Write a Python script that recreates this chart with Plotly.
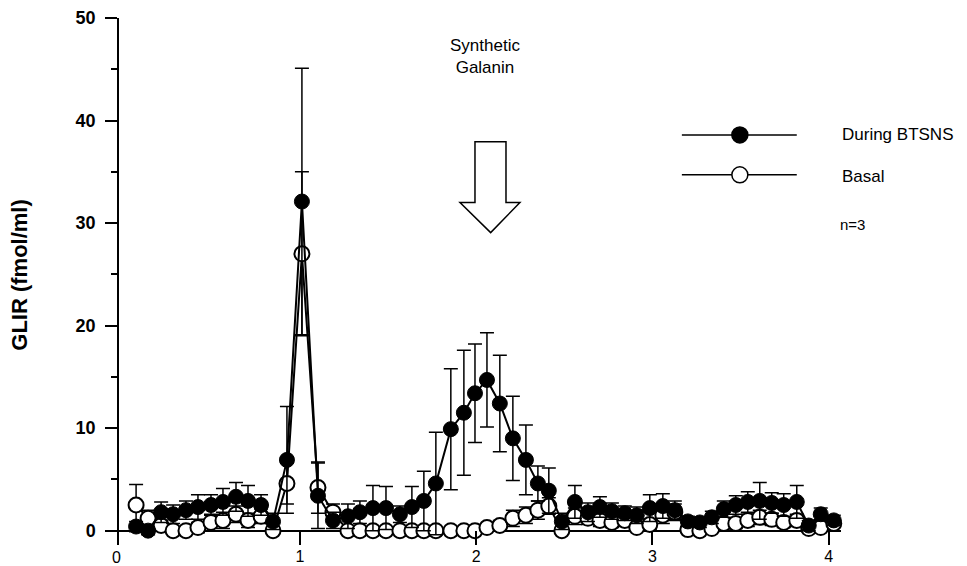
import plotly.graph_objects as go

# Time (x) positions of samples
time_x = [0.070, 0.138, 0.212, 0.280, 0.353, 0.421, 0.495, 0.563, 0.637, 0.705,
          0.779, 0.847, 0.926, 1.011, 1.102, 1.187, 1.272, 1.340, 1.414, 1.488,
          1.567, 1.635, 1.703, 1.771, 1.856, 1.930, 1.993, 2.061, 2.134, 2.208,
          2.282, 2.350, 2.412, 2.486, 2.560, 2.634, 2.702, 2.770, 2.843, 2.911,
          2.985, 3.059, 3.127, 3.201, 3.269, 3.337, 3.405, 3.473, 3.541, 3.609,
          3.677, 3.745, 3.819, 3.887, 3.955, 4.029]

# During BTSNS (filled circles)
during_y = [0.4, 0.0, 1.8, 1.6, 2.0, 2.3, 2.5, 2.8, 3.3, 2.9,
            2.5, 0.9, 6.9, 32.1, 3.4, 1.0, 1.4, 1.8, 2.2, 2.2,
            1.6, 2.3, 2.9, 4.6, 9.9, 11.5, 13.4, 14.7, 12.4, 9.0,
            6.9, 4.6, 3.9, 0.9, 2.8, 1.8, 2.3, 1.9, 1.7, 1.5,
            2.2, 2.4, 2.0, 0.9, 0.8, 1.3, 2.1, 2.5, 2.8, 2.9,
            2.7, 2.5, 2.8, 0.5, 1.6, 1.0]
during_err = [0.5, 0.4, 1.0, 0.9, 0.9, 1.2, 1.0, 1.3, 1.4, 1.5,
              1.0, 0.8, 5.2, 13.0, 3.2, 0.8, 1.2, 1.1, 2.2, 2.1,
              0.8, 2.0, 2.9, 5.0, 5.9, 6.1, 4.8, 4.6, 4.7, 4.1,
              3.4, 1.7, 2.2, 0.8, 1.6, 0.9, 1.0, 0.8, 0.7, 0.8,
              1.3, 1.2, 0.9, 0.5, 0.5, 0.6, 0.8, 0.9, 1.0, 1.8,
              1.0, 1.1, 1.6, 0.5, 0.6, 0.5]

# Basal (open circles)
basal_y = [2.5, 1.2, 0.5, 0.0, 0.0, 0.3, 0.8, 1.0, 1.6, 1.0,
           1.4, 0.0, 4.6, 27.0, 4.2, 1.8, 0.0, 0.0, 0.0, 0.0,
           0.0, 0.0, 0.0, 0.0, 0.0, 0.0, 0.0, 0.3, 0.5, 1.2,
           1.5, 2.0, 2.4, 0.0, 1.4, 1.2, 1.0, 0.8, 1.0, 0.3,
           0.6, 1.5, 1.8, 0.1, 0.0, 0.2, 0.7, 0.7, 1.0, 1.3,
           1.1, 0.8, 1.0, 0.2, 0.3, 0.7]
basal_err = [2.0, 0.8, 0.5, 0.3, 0.3, 0.5, 0.8, 0.8, 0.8, 0.7,
             0.7, 0.3, 2.0, 8.0, 2.5, 0.8, 0.2, 0.2, 0.2, 0.2,
             0.2, 0.2, 0.2, 0.2, 0.2, 0.2, 0.2, 0.3, 0.5, 0.8,
             0.8, 0.9, 0.8, 0.3, 0.8, 0.6, 0.6, 0.5, 0.6, 0.3,
             0.5, 0.8, 0.8, 0.3, 0.2, 0.3, 0.5, 0.5, 0.6, 0.7,
             0.6, 0.5, 0.6, 0.3, 0.3, 0.4]

y_ticks = [0, 10, 20, 30, 40, 50]
x_ticks = [1, 2, 3, 4]

FONT = "Arial, Liberation Sans, Helvetica, sans-serif"

fig = go.Figure()

fig.add_trace(go.Scatter(
    x=time_x, y=basal_y, mode="lines+markers", name="Basal",
    line=dict(color="black", width=2),
    marker=dict(symbol="circle", size=15, color="white", line=dict(color="black", width=2)),
    error_y=dict(type="data", array=basal_err, visible=True, color="black", thickness=1.5, width=7),
    cliponaxis=False, showlegend=False,
))
fig.add_trace(go.Scatter(
    x=time_x, y=during_y, mode="lines+markers", name="During BTSNS",
    line=dict(color="black", width=2),
    marker=dict(symbol="circle", size=15, color="black", line=dict(color="black", width=1)),
    error_y=dict(type="data", array=during_err, visible=True, color="black", thickness=1.5, width=7),
    cliponaxis=False, showlegend=False,
))

shapes = []
# hollow arrow
shapes.append(dict(
    type="path", xref="x", yref="y",
    path="M 1.993 37.94 L 2.169 37.94 L 2.169 32.0 L 2.248 32.0 L 2.082 29.07 L 1.908 32.0 L 1.993 32.0 Z",
    line=dict(color="black", width=1.5), fillcolor="white", layer="above",
))
# legend samples
for ly, fill in [(38.6, "black"), (34.7, "white")]:
    shapes.append(dict(type="line", xref="x", yref="y", x0=3.167, x1=3.819, y0=ly, y1=ly,
                       line=dict(color="black", width=1.5)))
    shapes.append(dict(type="circle", xref="x", yref="y", xsizemode="pixel", ysizemode="pixel",
                       xanchor=3.496, yanchor=ly, x0=-8, x1=8, y0=-8, y1=8,
                       fillcolor=fill, line=dict(color="black", width=1.5)))

annotations = [
    dict(x=2.05, y=46.2, xref="x", yref="y", text="Synthetic<br>Galanin", showarrow=False,
         font=dict(family=FONT, size=17, color="black"), align="center"),
    dict(x=0.9986, y=0.778, xref="paper", yref="paper", text="During BTSNS", showarrow=False,
         xanchor="left", yanchor="middle", font=dict(family=FONT, size=17, color="black")),
    dict(x=0.9986, y=0.6985, xref="paper", yref="paper", text="Basal", showarrow=False,
         xanchor="left", yanchor="middle", font=dict(family=FONT, size=17, color="black")),
    dict(x=0.996, y=0.609, xref="paper", yref="paper", text="n=3", showarrow=False,
         xanchor="left", yanchor="middle", font=dict(family=FONT, size=15, color="black")),
    dict(x=-0.004, y=-0.024, xref="paper", yref="paper", text="0", showarrow=False,
         xanchor="center", yanchor="middle", font=dict(family=FONT, size=16, color="black")),
    dict(x=-0.137, y=0.513, xref="paper", yref="paper", text="<b>GLIR (fmol/ml)</b>",
         showarrow=False, textangle=-90, xanchor="center", yanchor="middle",
         font=dict(family=FONT, size=22, color="black")),
]

# The page body has an 8px default margin, so the figure is 8px smaller
# and the margins are reduced accordingly.
fig.update_layout(
    width=959, height=558,
    margin=dict(l=111, r=126, t=10, b=21),
    paper_bgcolor="white", plot_bgcolor="white",
    shapes=shapes, annotations=annotations,
    font=dict(family=FONT, color="black"),
    xaxis=dict(range=[-0.027, 4.07], tickvals=x_ticks, ticktext=[str(v) for v in x_ticks],
               ticks="inside", ticklen=14, tickwidth=1.5, tickcolor="black",
               showline=False, showgrid=False, zeroline=False, automargin=False,
               ticklabelstandoff=0, ticklabeloverflow="allow",
               tickfont=dict(family=FONT, size=16, color="black")),
    yaxis=dict(range=[-1.4, 50], tickvals=y_ticks, ticks="outside", ticklen=12, tickwidth=1.5,
               tickcolor="black", showline=True, linecolor="black", linewidth=1.5,
               showgrid=False, zeroline=True, zerolinecolor="black", zerolinewidth=1.5,
               automargin=False, ticklabelstandoff=6, ticklabeloverflow="allow",
               minor=dict(dtick=5, tick0=0, ticks="outside", ticklen=6, tickwidth=1.5, tickcolor="black"),
               tickfont=dict(family=FONT, size=18, color="black", weight="bold")),
)

fig.write_html("out.html")
